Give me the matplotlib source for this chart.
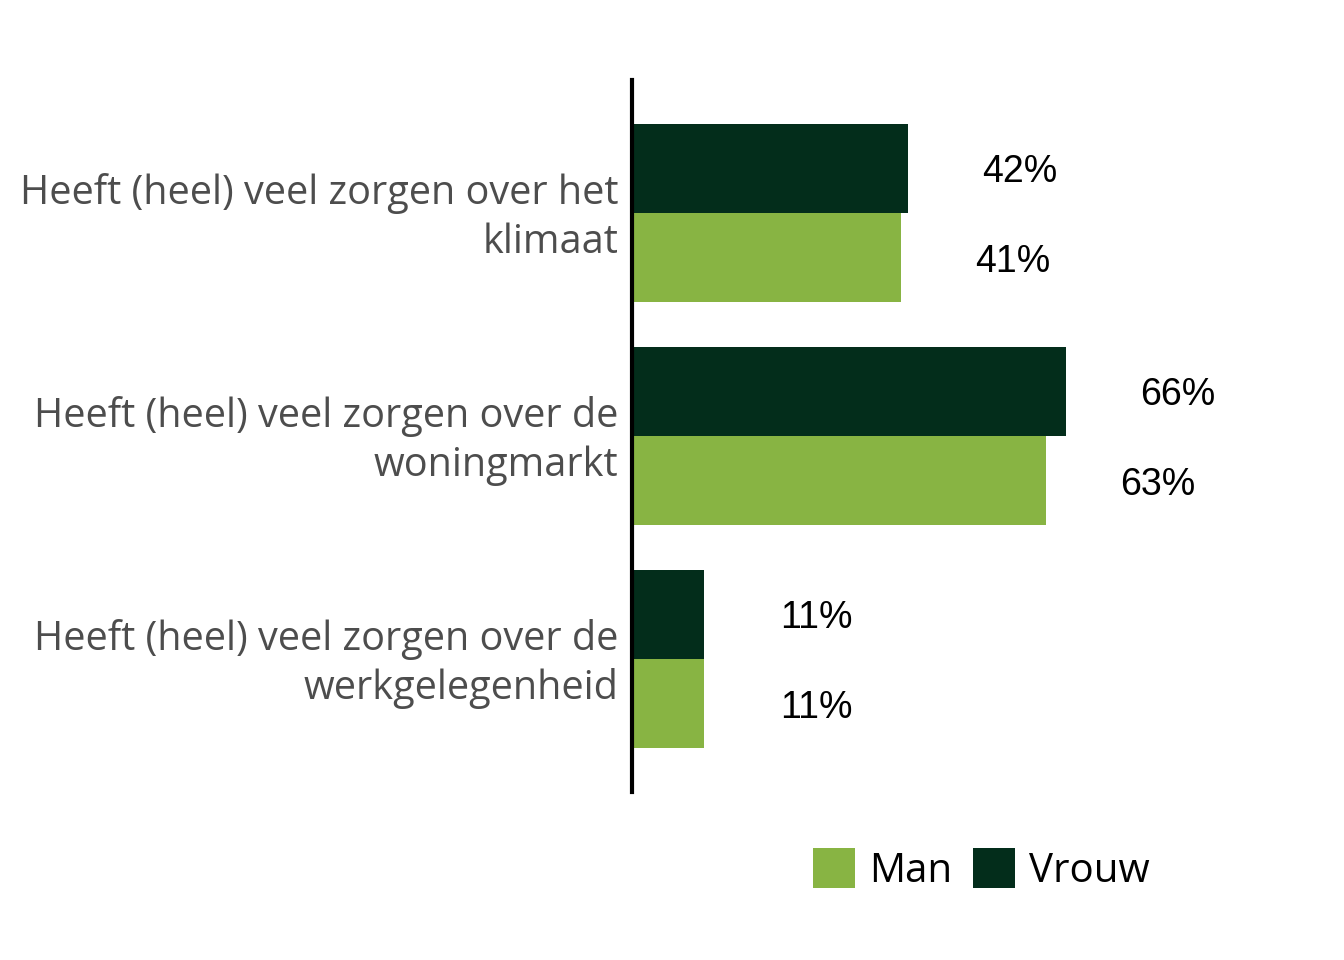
import matplotlib
matplotlib.use("Agg")
import matplotlib.pyplot as plt
from matplotlib.patches import Patch
from matplotlib.transforms import blended_transform_factory, ScaledTranslation
import numpy as np

categories = [
    "Heeft (heel) veel zorgen over het\nklimaat",
    "Heeft (heel) veel zorgen over de\nwoningmarkt",
    "Heeft (heel) veel zorgen over de\nwerkgelegenheid",
]
vrouw = [42, 66, 11]
man = [41, 63, 11]
series_names = ["Man", "Vrouw"]

col_man = "#88b443"
col_vrouw = "#032d1b"

fig = plt.figure(figsize=(13.44, 9.6), dpi=100)
ax = fig.add_axes([632 / 1344, 168 / 960, 657.3 / 1344, 712 / 960])

y = np.arange(len(categories))
h = 0.4
ax.barh(y - h / 2, vrouw, height=h, color=col_vrouw, zorder=2)
ax.barh(y + h / 2, man, height=h, color=col_man, zorder=2)

for yi, v in zip(y - h / 2, vrouw):
    ax.text(v + 17.0, yi, f"{v}%", ha="center", va="center_baseline",
            fontsize=27, family="Liberation Sans", color="black")
for yi, v in zip(y + h / 2, man):
    ax.text(v + 17.0, yi, f"{v}%", ha="center", va="center_baseline",
            fontsize=27, family="Liberation Sans", color="black")

ax.set_xlim(0, 100)
ax.set_ylim(2.596, -0.596)
ax.set_yticks([])
ax.set_xticks([])

trans = blended_transform_factory(ax.transAxes, ax.transData) + \
    ScaledTranslation(-14 / 100, -5 / 100, fig.dpi_scale_trans)
for yi, lab in zip(y, categories):
    ax.text(0, yi, lab, transform=trans, fontsize=28.5, family="Open Sans",
            color="#4d4d4d", ha="right", va="center", linespacing=1.27,
            multialignment="right")

for s in ["top", "right", "bottom"]:
    ax.spines[s].set_visible(False)
ax.spines["left"].set_linewidth(3)
ax.spines["left"].set_color("black")
ax.spines["left"].set_zorder(3)

handles = [Patch(facecolor=col_man), Patch(facecolor=col_vrouw)]
fig.legend(handles, series_names, loc="center", bbox_to_anchor=(981.5 / 1344, 90 / 960),
           ncol=2, frameon=False, prop={"family": "Open Sans", "size": 29},
           handlelength=1.05, handleheight=1.15, handletextpad=0.35, columnspacing=0.5)

fig.savefig("out.png", dpi=100)
